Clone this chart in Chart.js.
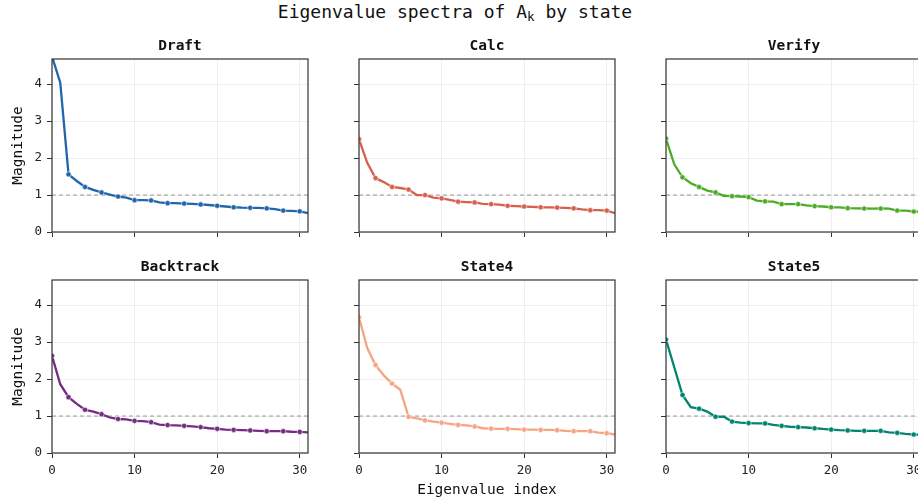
<!DOCTYPE html>
<html>
<head>
<meta charset="utf-8">
<script src="https://cdn.jsdelivr.net/npm/chart.js@4.4.1/dist/chart.umd.min.js"></script>
<style>
html, body {margin:0; padding:0; background:#fff; overflow:hidden;}
#wrap {position:relative; width:918px; height:503px; overflow:hidden;}
#suptitle {position:absolute; left:0; width:910px; top:2px; line-height:20px; text-align:center;
  font-family:'DejaVu Sans Mono', monospace; font-size:18px; color:#111;}
#suptitle sub {font-size:0.7em; vertical-align:-0.25em; line-height:0;}
canvas {position:absolute;}
</style>
</head>
<body>
<div id="wrap">
  <div id="suptitle">Eigenvalue spectra of A<sub>k</sub> by state</div>
</div>
<script>
// eigenvalue index (x)
const indices = [0,1,2,3,4,5,6,7,8,9,10,11,12,13,14,15,16,17,18,19,20,21,22,23,24,25,26,27,28,29,30,31];

const stateNames = ['Draft', 'Calc', 'Verify', 'Backtrack', 'State4', 'State5'];

const draftVals = [4.75, 4.04, 1.56, 1.38, 1.22, 1.14, 1.07, 1.01, 0.96, 0.93, 0.86, 0.86, 0.855, 0.80, 0.78, 0.78,
                   0.77, 0.76, 0.745, 0.73, 0.71, 0.69, 0.67, 0.66, 0.655, 0.65, 0.64, 0.62, 0.58, 0.57, 0.56, 0.51];
const calcVals = [2.51, 1.87, 1.46, 1.35, 1.22, 1.19, 1.15, 1.00, 1.00, 0.93, 0.91, 0.87, 0.82, 0.81, 0.80, 0.76,
                  0.755, 0.74, 0.71, 0.70, 0.69, 0.68, 0.67, 0.665, 0.66, 0.65, 0.64, 0.61, 0.59, 0.59, 0.58, 0.51];
const verifyVals = [2.53, 1.83, 1.48, 1.32, 1.22, 1.12, 1.07, 0.98, 0.97, 0.96, 0.945, 0.85, 0.83, 0.82, 0.755, 0.755,
                    0.755, 0.72, 0.70, 0.69, 0.67, 0.665, 0.645, 0.64, 0.636, 0.635, 0.636, 0.635, 0.58, 0.58, 0.555, 0.55];
const backtrackVals = [2.63, 1.86, 1.51, 1.33, 1.17, 1.12, 1.05, 0.96, 0.92, 0.91, 0.87, 0.86, 0.835, 0.77, 0.755, 0.75,
                       0.735, 0.72, 0.70, 0.67, 0.655, 0.63, 0.625, 0.62, 0.61, 0.60, 0.59, 0.59, 0.59, 0.575, 0.57, 0.56];
const state4Vals = [3.67, 2.84, 2.38, 2.10, 1.88, 1.71, 0.98, 0.94, 0.88, 0.85, 0.82, 0.79, 0.76, 0.75, 0.72, 0.67,
                    0.66, 0.655, 0.655, 0.645, 0.635, 0.63, 0.625, 0.625, 0.617, 0.60, 0.59, 0.59, 0.59, 0.55, 0.535, 0.50];
const state5Vals = [3.07, 2.32, 1.57, 1.24, 1.20, 1.12, 0.98, 0.98, 0.85, 0.82, 0.81, 0.80, 0.80, 0.76, 0.735, 0.71,
                    0.70, 0.69, 0.67, 0.65, 0.635, 0.62, 0.61, 0.60, 0.60, 0.60, 0.60, 0.56, 0.545, 0.52, 0.50, 0.49];

const seriesVals = [draftVals, calcVals, verifyVals, backtrackVals, state4Vals, state5Vals];
const stateColours = ['#2166ac', '#d6604d', '#4dac26', '#762a83', '#f4a582', '#018571'];

const threshold = 1;
const xTicks = [0, 10, 20, 30];
const yTicks = [0, 1, 2, 3, 4];
const xMax = 31;
const yMax = 4.68;

// layout (px)
const plotLefts = [52, 359, 666];
const plotTops = [59, 280];
const PLOT_W = 256, PLOT_H = 173;
const Y_AXIS_W = 52, TITLE_H = 26, RIGHT_PAD = 3;
const FONT = "'DejaVu Sans Mono', monospace";

const framePlugin = {
	id: 'frame',
	afterDatasetsDraw(chart) {
		const {ctx, chartArea: a} = chart;
		ctx.save();
		ctx.strokeStyle = '#333';
		ctx.lineWidth = 1.2;
		ctx.strokeRect(a.left, a.top, a.right - a.left, a.bottom - a.top);
		ctx.restore();
	}
};

function makePanel(i) {
	const row = Math.floor(i / 3), col = i % 3;
	const xh = row === 0 ? 10 : 48;
	const w = Y_AXIS_W + PLOT_W + RIGHT_PAD;
	const h = TITLE_H + PLOT_H + xh;

	const canvas = document.createElement('canvas');
	canvas.width = w; canvas.height = h;
	canvas.style.width = w + 'px'; canvas.style.height = h + 'px';
	canvas.style.left = (plotLefts[col] - Y_AXIS_W) + 'px';
	canvas.style.top = (plotTops[row] - TITLE_H) + 'px';
	document.getElementById('wrap').appendChild(canvas);

	const vals = seriesVals[i];
	const colour = stateColours[i];
	const gridOpts = {color: '#ebebeb', lineWidth: 0.8, tickColor: '#333', tickWidth: 1, tickLength: 5};

	new Chart(canvas, {
		type: 'line',
		data: {
			datasets: [
				{data: indices.map((x, j) => ({x: x, y: vals[j]})), borderColor: colour, backgroundColor: colour,
				 borderWidth: 2.3, tension: 0, order: 0,
				 pointRadius: ctx => ctx.dataIndex % 2 === 0 ? 2.6 : 0,
				 pointBorderColor: 'rgba(255,255,255,0.7)', pointBorderWidth: 0.8},
				{data: [{x: 0, y: threshold}, {x: xMax, y: threshold}], borderColor: '#999', borderWidth: 1,
				 borderDash: [4, 3], pointRadius: 0, order: 1}
			]
		},
		options: {
			responsive: false, animation: false, devicePixelRatio: 1,
			layout: {autoPadding: false, padding: {top: 0, right: RIGHT_PAD, bottom: 0, left: 0}},
			plugins: {
				legend: {display: false}, tooltip: {enabled: false},
				title: {display: true, fullSize: false, text: stateNames[i], color: '#111',
					font: {family: FONT, size: 14.5, weight: 'bold', lineHeight: 1.2},
					padding: {top: 4.5, bottom: 4.1}}
			},
			scales: {
				x: {type: 'linear', min: 0, max: xMax,
					afterBuildTicks: s => { s.ticks = xTicks.map(v => ({value: v})); },
					afterFit: s => { s.height = xh; s.paddingLeft = 0; s.paddingRight = 0; },
					grid: gridOpts, border: {display: false},
					ticks: {display: row === 1, padding: 5, maxRotation: 0, color: '#222', font: {family: FONT, size: 12.5}},
					title: {display: i === 4, text: 'Eigenvalue index', color: '#111',
						font: {family: FONT, size: 14.5}, padding: {top: 0, bottom: 2}}
				},
				y: {min: 0, max: yMax,
					afterBuildTicks: s => { s.ticks = yTicks.map(v => ({value: v})); },
					afterFit: s => { s.width = Y_AXIS_W; s.paddingTop = 0; s.paddingBottom = 0; },
					grid: gridOpts, border: {display: false},
					ticks: {display: col === 0, padding: 5, color: '#222', font: {family: FONT, size: 12.5}},
					title: {display: col === 0, text: 'Magnitude', color: '#111',
						font: {family: FONT, size: 14.5}, padding: {top: 10, bottom: 0}}
				}
			}
		},
		plugins: [framePlugin]
	});
}

for (let i = 0; i < 6; i++) makePanel(i);
</script>
</body>
</html>
